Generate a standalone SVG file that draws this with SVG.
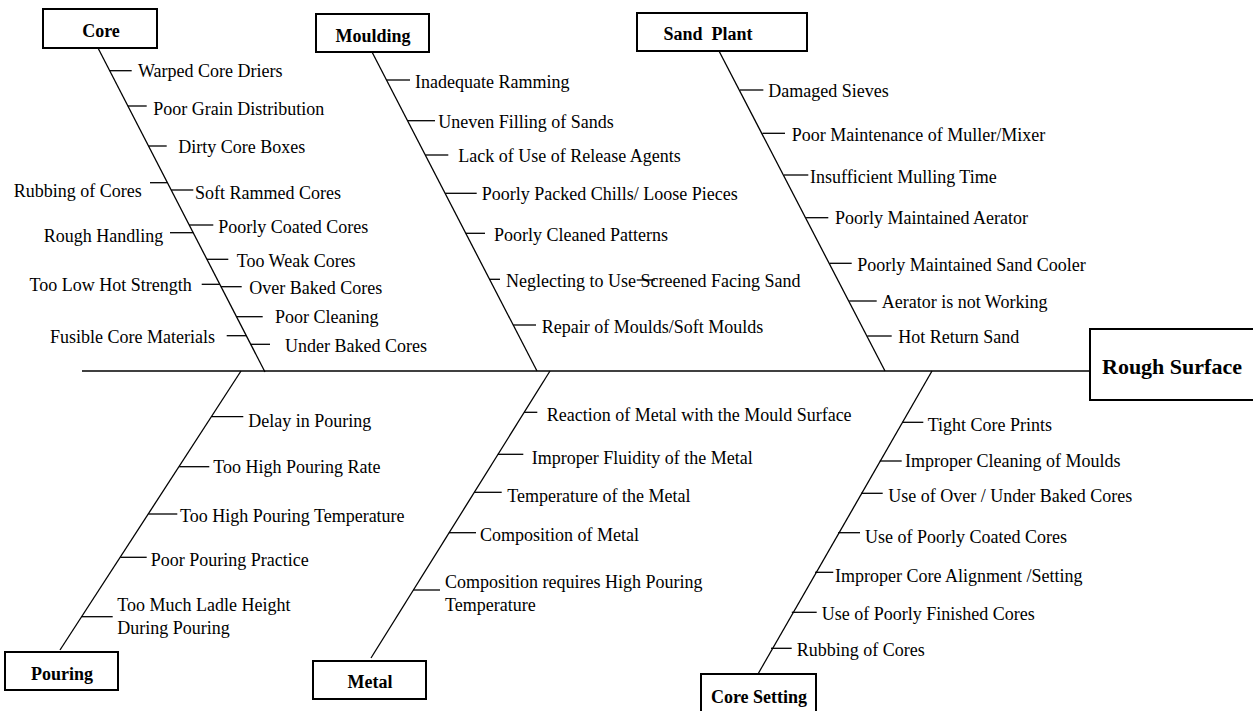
<svg xmlns="http://www.w3.org/2000/svg" width="1253" height="711" viewBox="0 0 1253 711">
<style>
.box{fill:#fff;stroke:#000;stroke-width:2}
.hd{font-family:"Liberation Serif","Times New Roman",serif;font-weight:bold;font-size:18px;fill:#000;text-anchor:middle}
.eff{font-family:"Liberation Serif","Times New Roman",serif;font-weight:bold;font-size:22px;fill:#000}
.t{font-family:"Liberation Serif","Times New Roman",serif;font-size:18px;fill:#000}
.l{text-anchor:end}
.ln{stroke:#000;stroke-width:1.3;fill:none}
</style>
<rect width="1253" height="711" fill="#fff"/>
<g id="connectors" class="ln">
<line x1="82" y1="371" x2="1090" y2="371"/>
<line x1="98" y1="48" x2="265" y2="372"/>
<line x1="372" y1="52" x2="537" y2="371"/>
<line x1="719" y1="51" x2="885" y2="371"/>
<line x1="241" y1="371" x2="60" y2="650"/>
<line x1="550" y1="371" x2="371" y2="658"/>
<line x1="932" y1="371" x2="758" y2="674"/>
<!-- core ticks -->
<line x1="109.7" y1="70.7" x2="131.7" y2="70.7"/>
<line x1="127.9" y1="106" x2="146.7" y2="106"/>
<line x1="148.5" y1="146" x2="166.7" y2="146"/>
<line x1="171.2" y1="190" x2="193.3" y2="190"/>
<line x1="150" y1="182.7" x2="167.4" y2="182.7"/>
<line x1="189.2" y1="225" x2="213.3" y2="225"/>
<line x1="170" y1="232.7" x2="193.2" y2="232.7"/>
<line x1="206.9" y1="259.3" x2="228.3" y2="259.3"/>
<line x1="201.7" y1="284.3" x2="219.8" y2="284.3"/>
<line x1="221" y1="286.7" x2="241.7" y2="286.7"/>
<line x1="236.5" y1="316.7" x2="262.7" y2="316.7"/>
<line x1="226.7" y1="335.7" x2="246.3" y2="335.7"/>
<line x1="250.7" y1="344.3" x2="270" y2="344.3"/>
<!-- moulding ticks -->
<line x1="386.7" y1="80" x2="410" y2="80"/>
<line x1="407.7" y1="120.7" x2="435" y2="120.7"/>
<line x1="425.4" y1="155" x2="448.3" y2="155"/>
<line x1="445.2" y1="193.3" x2="476.7" y2="193.3"/>
<line x1="465.9" y1="233.3" x2="485" y2="233.3"/>
<line x1="489.7" y1="279.3" x2="500" y2="279.3"/>
<line x1="636.7" y1="280" x2="655" y2="280"/>
<line x1="513.3" y1="325" x2="536" y2="325"/>
<!-- sand plant ticks -->
<line x1="740" y1="90" x2="763.3" y2="90"/>
<line x1="762.4" y1="133.3" x2="785" y2="133.3"/>
<line x1="784" y1="175" x2="808.3" y2="175"/>
<line x1="806.1" y1="217.7" x2="828.3" y2="217.7"/>
<line x1="829.7" y1="263.3" x2="851.7" y2="263.3"/>
<line x1="849.2" y1="301" x2="876.7" y2="301"/>
<line x1="867.3" y1="336" x2="891.7" y2="336"/>
<!-- pouring ticks -->
<line x1="211.7" y1="416.7" x2="243.3" y2="416.7"/>
<line x1="179.2" y1="466.7" x2="209.3" y2="466.7"/>
<line x1="148.5" y1="514" x2="177.3" y2="514"/>
<line x1="120.3" y1="557.3" x2="146.7" y2="557.3"/>
<line x1="81.7" y1="616.7" x2="112.7" y2="616.7"/>
<!-- metal ticks -->
<line x1="524" y1="412.3" x2="537.3" y2="412.3"/>
<line x1="497.8" y1="454.3" x2="523.3" y2="454.3"/>
<line x1="474.1" y1="492.3" x2="501.7" y2="492.3"/>
<line x1="448.9" y1="532.7" x2="476" y2="532.7"/>
<line x1="413.3" y1="590" x2="440" y2="590"/>
<!-- core setting ticks -->
<line x1="902.3" y1="422.3" x2="923.3" y2="422.3"/>
<line x1="879.8" y1="461" x2="901.7" y2="461"/>
<line x1="861" y1="493.3" x2="882.7" y2="493.3"/>
<line x1="838.1" y1="532.7" x2="860" y2="532.7"/>
<line x1="815.1" y1="572.3" x2="833.3" y2="572.3"/>
<line x1="791.8" y1="612.3" x2="816.7" y2="612.3"/>
<line x1="771" y1="648.3" x2="791.7" y2="648.3"/>
</g>
<g id="effect">
<rect class="box" x="1090" y="329" width="170" height="71"/>
<text class="eff" x="1102" y="374">Rough Surface</text>
</g>
<g id="core">
<rect class="box" x="43" y="9" width="114" height="39"/>
<text class="hd" x="101" y="37">Core</text>
</g>
<g id="moulding">
<rect class="box" x="316" y="14" width="113" height="38"/>
<text class="hd" x="373" y="41.5">Moulding</text>
</g>
<g id="sand-plant">
<rect class="box" x="637" y="13" width="170" height="38"/>
<text class="hd" x="708" y="40" xml:space="preserve">Sand  Plant</text>
</g>
<g id="pouring">
<rect class="box" x="5" y="652" width="113" height="38"/>
<text class="hd" x="62" y="680">Pouring</text>
</g>
<g id="metal">
<rect class="box" x="313" y="661" width="113" height="38"/>
<text class="hd" x="370" y="687.5">Metal</text>
</g>
<g id="core-setting">
<rect class="box" x="701" y="674" width="115" height="45"/>
<text class="hd" x="759" y="703">Core Setting</text>
</g>
<g id="core-causes" class="t">
<text x="138" y="77.3">Warped Core Driers</text>
<text x="153.3" y="115">Poor Grain Distribution</text>
<text x="178.3" y="152.7">Dirty Core Boxes</text>
<text x="141.7" y="196.5" class="l">Rubbing of Cores</text>
<text x="195" y="198.5">Soft Rammed Cores</text>
<text x="218.3" y="233.3">Poorly Coated Cores</text>
<text x="163.3" y="241.7" class="l">Rough Handling</text>
<text x="236.7" y="267.3">Too Weak Cores</text>
<text x="191.7" y="291" class="l">Too Low Hot Strength</text>
<text x="249.3" y="294.3">Over Baked Cores</text>
<text x="275" y="323.3">Poor Cleaning</text>
<text x="215" y="343.3" class="l">Fusible Core Materials</text>
<text x="285" y="352.3">Under Baked Cores</text>
</g>
<g id="moulding-causes" class="t">
<text x="415" y="88.3">Inadequate Ramming</text>
<text x="438.3" y="128.3">Uneven Filling of Sands</text>
<text x="458.3" y="161.7">Lack of Use of Release Agents</text>
<text x="481.7" y="200">Poorly Packed Chills/ Loose Pieces</text>
<text x="494" y="241">Poorly Cleaned Patterns</text>
<text x="506" y="287.3">Neglecting to Use Screened Facing Sand</text>
<text x="541.7" y="332.7">Repair of Moulds/Soft Moulds</text>
</g>
<g id="sand-plant-causes" class="t">
<text x="768.3" y="96.7">Damaged Sieves</text>
<text x="791.7" y="141">Poor Maintenance of Muller/Mixer</text>
<text x="810" y="183.3">Insufficient Mulling Time</text>
<text x="835" y="224">Poorly Maintained Aerator</text>
<text x="857.3" y="270.7">Poorly Maintained Sand Cooler</text>
<text x="881.7" y="308.3">Aerator is not Working</text>
<text x="898.3" y="343.3">Hot Return Sand</text>
</g>
<g id="pouring-causes" class="t">
<text x="248.3" y="426.7">Delay in Pouring</text>
<text x="213.3" y="472.7">Too High Pouring Rate</text>
<text x="180" y="521.7">Too High Pouring Temperature</text>
<text x="150.7" y="565.7">Poor Pouring Practice</text>
<text x="117.3" y="610.7">Too Much Ladle Height</text>
<text x="117.3" y="634">During Pouring</text>
</g>
<g id="metal-causes" class="t">
<text x="546.7" y="420.7">Reaction of Metal with the Mould Surface</text>
<text x="531.7" y="464">Improper Fluidity of the Metal</text>
<text x="507.3" y="501.7">Temperature of the Metal</text>
<text x="480" y="540.7">Composition of Metal</text>
<text x="445" y="588.3">Composition requires High Pouring</text>
<text x="445" y="610.7">Temperature</text>
</g>
<g id="core-setting-causes" class="t">
<text x="927.7" y="430.7">Tight Core Prints</text>
<text x="905" y="466.7">Improper Cleaning of Moulds</text>
<text x="888.3" y="501.7">Use of Over / Under Baked Cores</text>
<text x="865" y="542.7">Use of Poorly Coated Cores</text>
<text x="835" y="581.7">Improper Core Alignment /Setting</text>
<text x="821.7" y="620">Use of Poorly Finished Cores</text>
<text x="796.7" y="656">Rubbing of Cores</text>
</g>
</svg>
